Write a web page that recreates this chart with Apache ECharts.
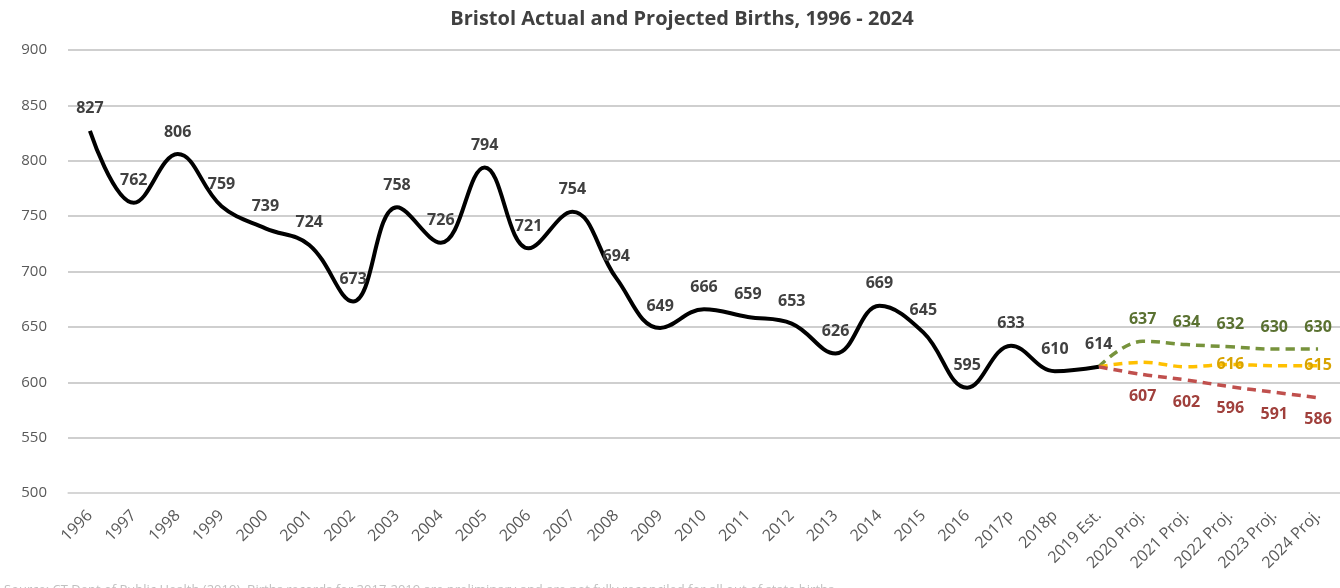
<!DOCTYPE html>
<html>
<head>
<meta charset="utf-8">
<script src="https://cdn.jsdelivr.net/npm/echarts@6/dist/echarts.min.js"></script>
<style>
  html, body { margin: 0; padding: 0; background: #fff; }
  #main { width: 1340px; height: 588px; }
</style>
</head>
<body>
<div id="main"></div>
<script>
// categories on the x axis
var years = ['1996', '1997', '1998', '1999', '2000', '2001', '2002', '2003', '2004', '2005',
  '2006', '2007', '2008', '2009', '2010', '2011', '2012', '2013', '2014', '2015',
  '2016', '2017p', '2018p', '2019 Est.', '2020 Proj.', '2021 Proj.', '2022 Proj.', '2023 Proj.', '2024 Proj.']

// actual births 1996 - 2019 Est.
var actual = [827, 762, 806, 759, 739, 724, 673, 758, 726, 794, 721, 754, 694, 649, 666,
  659, 653, 626, 669, 645, 595, 633, 610, 614]

// projections, starting from the 2019 estimate
var projHigh = [614, 637, 634, 632, 630, 630]
var projMid = [614, 618, 614, 616, 615, 615]
var projLow = [614, 607, 602, 596, 591, 586]
// the mid projection only shows some of its labels
var midLabelYears = ['2022 Proj.', '2024 Proj.']

var yTicks = { min: 500, max: 900, interval: 50 }

// pad a projection so it lines up with the category axis
function pad (arr) {
  var out = []
  var start = years.length - arr.length
  for (var i = 0; i < years.length; i++) {
    out.push(i < start ? null : arr[i - start])
  }
  return out
}

function labelStyle (color) {
  return {
    show: true,
    fontFamily: 'Open Sans',
    fontSize: 16,
    fontWeight: 'bold',
    color: color
  }
}

var myChart = echarts.init(document.getElementById('main'))
myChart.setOption({
  animation: false,
  title: {
    text: 'Bristol Actual and Projected Births, 1996 - 2024',
    left: 677,
    top: 4,
    textAlign: 'center',
    textStyle: {
      fontFamily: 'Open Sans',
      fontSize: 20,
      fontWeight: 'bold',
      color: '#404040'
    }
  },
  grid: {
    left: 68,
    right: -4,
    top: 50,
    bottom: 95
  },
  xAxis: {
    type: 'category',
    data: years,
    boundaryGap: true,
    axisLine: { lineStyle: { color: '#d9d9d9', width: 1.5 } },
    axisTick: { show: false },
    axisLabel: {
      rotate: 45,
      interval: 0,
      margin: 20,
      fontFamily: 'Open Sans',
      fontSize: 16,
      color: '#595959'
    }
  },
  yAxis: {
    type: 'value',
    min: yTicks.min,
    max: yTicks.max,
    interval: yTicks.interval,
    axisLine: { show: false },
    axisTick: { show: false },
    axisLabel: {
      margin: 21,
      fontFamily: 'Open Sans',
      fontSize: 15,
      color: '#595959'
    },
    splitLine: { lineStyle: { color: '#bfbfbf', width: 1.5 } }
  },
  series: [
    {
      name: 'High',
      type: 'line',
      smooth: 0.4,
      symbol: 'circle',
      symbolSize: 0,
      data: pad(projHigh),
      lineStyle: { color: '#77933c', width: 3.5, type: [9, 6] },
      itemStyle: { color: '#77933c' },
      label: Object.assign(labelStyle('#5a7131'), {
        position: 'top',
        distance: 14,
        formatter: function (p) { return p.dataIndex > 23 ? p.value : '' }
      })
    },
    {
      name: 'Mid',
      type: 'line',
      smooth: 0.4,
      symbol: 'circle',
      symbolSize: 0,
      data: pad(projMid),
      lineStyle: { color: '#ffc000', width: 3.5, type: [9, 6] },
      itemStyle: { color: '#ffc000' },
      label: Object.assign(labelStyle('#d8a300'), {
        position: 'inside',
        formatter: function (p) { return midLabelYears.indexOf(p.name) >= 0 ? p.value : '' }
      })
    },
    {
      name: 'Low',
      type: 'line',
      smooth: 0.4,
      symbol: 'circle',
      symbolSize: 0,
      data: pad(projLow),
      lineStyle: { color: '#c0504d', width: 3.5, type: [9, 6] },
      itemStyle: { color: '#c0504d' },
      label: Object.assign(labelStyle('#a0403c'), {
        position: 'bottom',
        distance: 14,
        formatter: function (p) { return p.dataIndex > 23 ? p.value : '' }
      })
    },
    {
      name: 'Actual',
      type: 'line',
      smooth: 0.4,
      symbol: 'circle',
      symbolSize: 0,
      data: actual,
      lineStyle: { color: '#000', width: 4 },
      itemStyle: { color: '#000' },
      label: Object.assign(labelStyle('#404040'), {
        position: 'top',
        distance: 14
      })
    }
  ],
  graphic: [
    {
      type: 'text',
      left: 4,
      top: 584,
      style: {
        text: 'Source: CT Dept of Public Health (2019). Births records for 2017-2019 are preliminary and are not fully reconciled for all out of state births.',
        fontFamily: 'Open Sans',
        fontSize: 13,
        fill: '#c0c0c0'
      }
    }
  ]
})
</script>
</body>
</html>
